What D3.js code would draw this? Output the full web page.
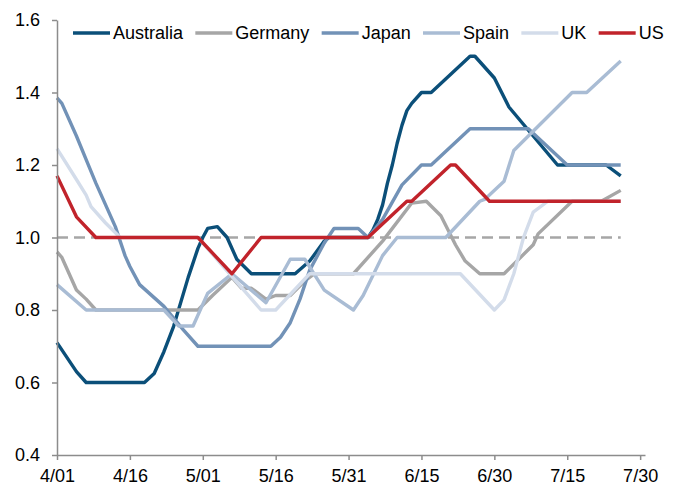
<!DOCTYPE html>
<meta charset="utf-8">
<style>
body { margin: 0; background: #fff; }
text { font-family: "Liberation Sans", Arial, sans-serif; }
</style>
<body>
<svg width="675" height="486"></svg>

<script src="https://cdn.jsdelivr.net/npm/d3@7/dist/d3.min.js"></script>
<script>

// Tick labels
var xTickLabels = ["4/01", "4/16", "5/01", "5/16", "5/31", "6/15", "6/30", "7/15", "7/30"];
var yTickValues = [0.4, 0.6, 0.8, 1.0, 1.2, 1.4, 1.6];
var refValue = 1.0;

// Series (date, value)
var seriesNames = ["Australia", "Germany", "Japan", "Spain", "UK", "US"];

var australia = [["4/01",0.71],["4/05",0.63],["4/07",0.60],["4/19",0.60],["4/21",0.625],["4/23",0.685],
  ["4/25",0.755],["4/28",0.89],["4/30",0.97],["5/01",1.00],["5/02",1.025],["5/04",1.03],["5/06",1.00],
  ["5/08",0.94],["5/11",0.90],["5/20",0.90],["5/23",0.935],["5/26",0.99],["5/27",1.00],["6/04",1.00],
  ["6/05",1.02],["6/06",1.05],["6/07",1.09],["6/08",1.15],["6/09",1.20],["6/10",1.26],["6/11",1.31],
  ["6/12",1.35],["6/13",1.37],["6/15",1.40],["6/17",1.40],["6/25",1.50],["6/26",1.50],["6/30",1.44],
  ["7/03",1.36],["7/13",1.20],["7/23",1.20],["7/26",1.17]];

var germany = [["4/01",0.96],["4/02",0.945],["4/05",0.855],["4/07",0.83],["4/09",0.80],["4/30",0.80],
  ["5/03",0.84],["5/07",0.89],["5/09",0.86],["5/11",0.86],["5/14",0.83],["5/16",0.84],["5/19",0.84],
  ["5/22",0.88],["5/24",0.90],["6/01",0.90],["6/07",0.99],["6/13",1.095],["6/16",1.10],["6/19",1.06],
  ["6/22",0.98],["6/24",0.935],["6/27",0.90],["7/02",0.90],["7/08",0.98],["7/09",1.01],["7/16",1.10],
  ["7/22",1.10],["7/26",1.13]];

var japan = [["4/01",1.385],["4/02",1.37],["4/05",1.28],["4/07",1.215],["4/09",1.15],["4/11",1.09],
  ["4/13",1.03],["4/15",0.95],["4/16",0.92],["4/18",0.87],["4/23",0.81],["4/27",0.745],["4/30",0.70],
  ["5/15",0.70],["5/17",0.725],["5/19",0.765],["5/21",0.83],["5/23",0.91],["5/26",0.985],["5/28",1.025],
  ["6/02",1.025],["6/04",1.00],["6/07",1.05],["6/11",1.145],["6/15",1.20],["6/17",1.20],["6/25",1.30],
  ["7/07",1.30],["7/15",1.20],["7/26",1.20]];

var spain = [["4/01",0.87],["4/07",0.80],["4/23",0.80],["4/26",0.756],["4/29",0.756],["5/02",0.846],
  ["5/07",0.90],["5/14",0.82],["5/19",0.94],["5/22",0.94],["5/26",0.855],["6/01",0.80],["6/03",0.84],
  ["6/07",0.95],["6/10",1.00],["6/20",1.00],["6/27",1.10],["6/28",1.105],["7/02",1.155],["7/04",1.24],
  ["7/16",1.40],["7/19",1.40],["7/26",1.487]];

var uk = [["4/01",1.245],["4/05",1.16],["4/07",1.117],["4/08",1.085],["4/11",1.04],["4/14",1.00],
  ["4/30",1.00],["5/13",0.80],["5/16",0.80],["5/23",0.90],["6/23",0.90],["6/30",0.80],["7/02",0.828],
  ["7/04",0.90],["7/06",1.00],["7/08",1.07],["7/11",1.10],["7/26",1.10]];

var us = [["4/01",1.17],["4/05",1.057],["4/09",1.00],["4/30",1.00],["5/07",0.90],["5/13",1.00],
  ["6/04",1.00],["6/12",1.10],["6/13",1.10],["6/21",1.20],["6/22",1.20],["6/29",1.10],["7/26",1.10]];

var seriesData = [australia, germany, japan, spain, uk, us];
var colors = ["#0b4f79", "#a6a6a6", "#7292b7", "#a9bcd4", "#d3dcea", "#c1232b"];

var svg = d3.select("svg"),
    margin = {top: 20, right: 30, bottom: 31, left: 57},
    width  = +svg.attr("width") - margin.left - margin.right,
    height = +svg.attr("height") - margin.top - margin.bottom;

var parseDate = d3.timeParse("%m/%d");

// Scales
var x = d3.scaleTime()
    .domain([parseDate("4/01"), parseDate("7/31")])
    .range([0, width]);
var y = d3.scaleLinear()
    .domain([0.4, 1.6])
    .range([height, 0]);

var line = d3.line()
    .x(function(d) { return x(parseDate(d[0])); })
    .y(function(d) { return y(d[1]); });

var g = svg.append("g")
    .attr("transform", "translate(" + margin.left + "," + margin.top + ")");

// Reference line at 1.0 across the data range
g.append("line")
    .attr("x1", x(parseDate(australia[0][0])))
    .attr("x2", x(parseDate(australia[australia.length - 1][0])))
    .attr("y1", y(refValue))
    .attr("y2", y(refValue))
    .attr("stroke", "#a6a6a6")
    .attr("stroke-width", 2.5)
    .attr("stroke-dasharray", "11,6");

// Lines
seriesData.forEach(function(s, i) {
  g.append("path")
      .datum(s)
      .attr("fill", "none")
      .attr("stroke", colors[i])
      .attr("stroke-width", 3.4)
      .attr("stroke-linejoin", "round")
      .attr("d", line);
});

// Axes
var xAxis = d3.axisBottom(x)
    .tickValues(xTickLabels.map(parseDate))
    .tickFormat(d3.timeFormat("%-m/%d"))
    .tickSize(5)
    .tickSizeOuter(0)
    .tickPadding(9);

var yAxis = d3.axisLeft(y)
    .tickValues(yTickValues)
    .tickFormat(d3.format(".1f"))
    .tickSize(5)
    .tickSizeOuter(0)
    .tickPadding(12);

var gx = g.append("g")
    .attr("transform", "translate(0," + height + ")")
    .call(xAxis);
var gy = g.append("g").call(yAxis);

[gx, gy].forEach(function(a) {
  a.select(".domain").attr("stroke", "#8c8c8c").attr("stroke-width", 1.5);
  a.selectAll(".tick line").attr("stroke", "#8c8c8c").attr("stroke-width", 1.5);
  a.selectAll(".tick text")
      .attr("fill", "#000")
      .style("font-size", "18px")
      .style("font-family", "'Liberation Sans', Arial, sans-serif");
});

// Legend
var legend = svg.append("g")
    .attr("transform", "translate(73,33)");
var lx = 0;
seriesNames.forEach(function(name, i) {
  var item = legend.append("g").attr("transform", "translate(" + lx + ",0)");
  item.append("line")
      .attr("x1", 0).attr("x2", 37)
      .attr("stroke", colors[i])
      .attr("stroke-width", 3.5);
  var t = item.append("text")
      .attr("x", 40)
      .attr("dy", "0.35em")
      .style("font-size", "18px")
      .attr("fill", "#000")
      .text(name);
  lx += 40 + t.node().getComputedTextLength() + 12.3;
});

</script>
</body>
